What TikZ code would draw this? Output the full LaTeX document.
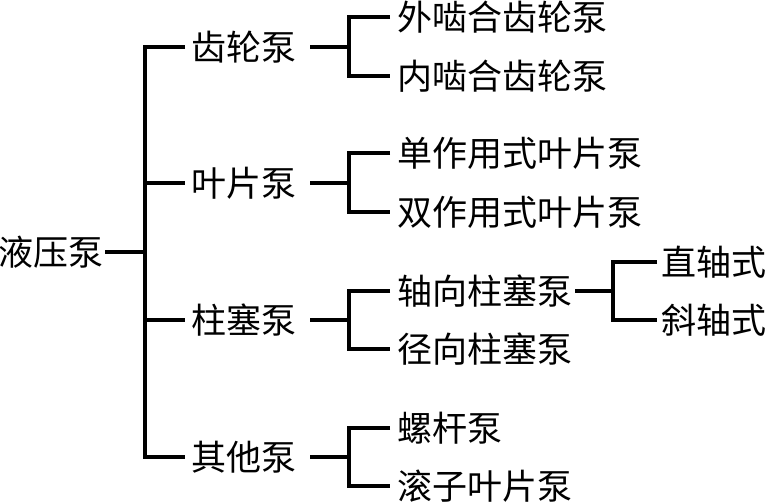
\documentclass[tikz,border=0pt]{standalone}
\usepackage{fontspec}
\newfontfamily\cjk{Noto Sans CJK SC}
\begin{document}
\begin{tikzpicture}[x=1pt,y=-1pt,
  lbl/.style={inner sep=0pt, font=\cjk\fontsize{35}{35}\selectfont, text height=30.8pt, text depth=4.2pt},
  ln/.style={line width=3.8pt, line join=miter, line cap=butt}]
\useasboundingbox (0,0) rectangle (769,503);
% root
\node[lbl, anchor=east] (root) at (104,252) {液压泵};
% level 1
\node[lbl, anchor=west] (gear) at (191,47) {齿轮泵};
\node[lbl, anchor=west] (vane) at (191,183) {叶片泵};
\node[lbl, anchor=west] (piston) at (191,320) {柱塞泵};
\node[lbl, anchor=west] (other) at (191,457) {其他泵};
% level 2
\node[lbl, anchor=west] (ext) at (397,17) {外啮合齿轮泵};
\node[lbl, anchor=west] (int) at (397,76) {内啮合齿轮泵};
\node[lbl, anchor=west] (single) at (397,153) {单作用式叶片泵};
\node[lbl, anchor=west] (double) at (397,212) {双作用式叶片泵};
\node[lbl, anchor=west] (axial) at (397,291) {轴向柱塞泵};
\node[lbl, anchor=west] (radial) at (397,349) {径向柱塞泵};
\node[lbl, anchor=west] (screw) at (397,428) {螺杆泵};
\node[lbl, anchor=west] (roller) at (397,486) {滚子叶片泵};
% level 3
\node[lbl, anchor=west] (straight) at (661,262) {直轴式};
\node[lbl, anchor=west] (oblique) at (661,320) {斜轴式};
% junctions
\coordinate (j0) at (145,252);
\coordinate (jg) at (349,47);
\coordinate (jv) at (349,183);
\coordinate (jp) at (349,320);
\coordinate (jo) at (349,457);
\coordinate (ja) at (613,291);
% trunk
\draw[ln] ([xshift=1]root.east) -- (j0);
\draw[ln] ([xshift=-6]gear.west) -| (j0) |- ([xshift=-6]other.west);
\draw[ln] (j0 |- vane) -- ([xshift=-6]vane.west);
\draw[ln] (j0 |- piston) -- ([xshift=-6]piston.west);
% level 1 brackets
\draw[ln] ([xshift=14]gear.east) -- (jg);
\draw[ln] ([xshift=-7]ext.west) -| (jg) |- ([xshift=-7]int.west);
\draw[ln] ([xshift=14]vane.east) -- (jv);
\draw[ln] ([xshift=-7]single.west) -| (jv) |- ([xshift=-7]double.west);
\draw[ln] ([xshift=14]piston.east) -- (jp);
\draw[ln] ([xshift=-7]axial.west) -| (jp) |- ([xshift=-7]radial.west);
\draw[ln] ([xshift=14]other.east) -- (jo);
\draw[ln] ([xshift=-7]screw.west) -| (jo) |- ([xshift=-7]roller.west);
% level 2 bracket
\draw[ln] ([xshift=3]axial.east) -- (ja);
\draw[ln] ([xshift=-4]straight.west) -| (ja) |- ([xshift=-4]oblique.west);
\end{tikzpicture}
\end{document}
